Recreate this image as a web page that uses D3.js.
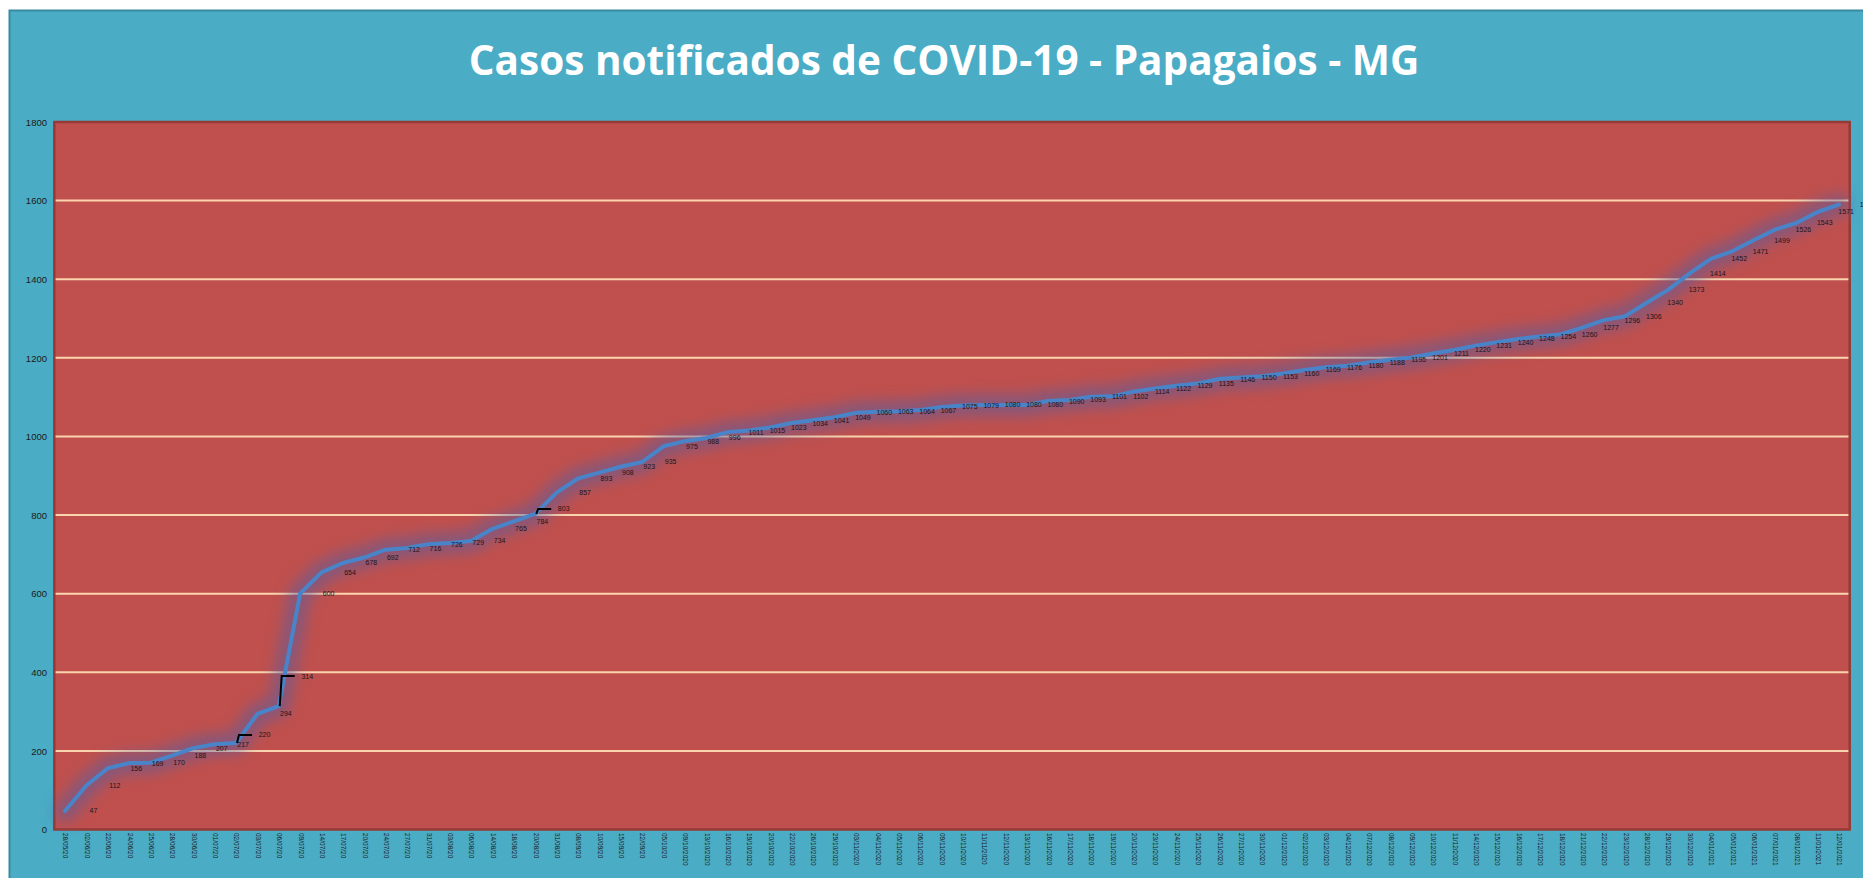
<!DOCTYPE html>
<html>
<head>
<meta charset="utf-8">
<script src="https://cdn.jsdelivr.net/npm/d3@7"></script>
<style>
  html, body { margin: 0; padding: 0; background: #ffffff; overflow: hidden; }
  svg { display: block; }
</style>
</head>
<body>
<svg id="chart" width="1863" height="878"></svg>
<script>
// ---------------- DATA ----------------
const title = "Casos notificados de COVID-19 - Papagaios - MG";

const dates = [
  "28/05/20","02/06/20","22/06/20","24/06/20","25/06/20","28/06/20","30/06/20","01/07/20","02/07/20","03/07/20",
  "06/07/20","09/07/20","14/07/20","17/07/20","20/07/20","24/07/20","27/07/20","31/07/20","03/08/20","06/08/20",
  "14/08/20","18/08/20","20/08/20","31/08/20","08/09/20","10/09/20","15/09/20","22/09/20","05/10/20","09/10/2020",
  "13/10/2020","16/10/2020","19/10/2020","20/10/2020","22/10/2020","26/10/2020","29/10/2020","03/11/2020","04/11/2020","05/11/2020",
  "06/11/2020","09/11/2020","10/11/2020","11/11/2020","12/11/2020","13/11/2020","16/11/2020","17/11/2020","18/11/2020","19/11/2020",
  "20/11/2020","23/11/2020","24/11/2020","25/11/2020","26/11/2020","27/11/2020","30/11/2020","01/12/2020","02/12/2020","03/12/2020",
  "04/12/2020","07/12/2020","08/12/2020","09/12/2020","10/12/2020","11/12/2020","14/12/2020","15/12/2020","16/12/2020","17/12/2020",
  "18/12/2020","21/12/2020","22/12/2020","23/12/2020","28/12/2020","29/12/2020","30/12/2020","04/01/2021","05/01/2021","06/01/2021",
  "07/01/2021","08/01/2021","11/01/2021","12/01/2021"
];

const cases = [
  47,112,156,169,170,188,207,217,220,294,
  314,600,654,678,692,712,716,726,729,734,
  765,784,803,857,893,908,923,935,975,988,
  996,1011,1015,1023,1034,1041,1049,1060,1063,1064,
  1067,1075,1079,1080,1080,1080,1090,1093,1101,1102,
  1114,1122,1129,1135,1146,1150,1153,1160,1169,1176,
  1180,1188,1195,1201,1211,1220,1231,1240,1248,1254,
  1260,1277,1296,1306,1340,1373,1414,1452,1471,1499,
  1526,1543,1571,1590
];

const yTicks = [0,200,400,600,800,1000,1200,1400,1600,1800];

// ---------------- LAYOUT ----------------
const W = 1863, H = 878;
const plot = { left: 54.3, right: 1849.7, top: 122, bottom: 829.5 };

const svg = d3.select("#chart");
const defs = svg.append("defs");

const glow = defs.append("filter").attr("id", "glow")
  .attr("x", "-5%").attr("y", "-20%").attr("width", "110%").attr("height", "140%");
glow.append("feGaussianBlur").attr("stdDeviation", 7);

// outer chart area
svg.append("rect")
  .attr("x", 9.5).attr("y", 10.5)
  .attr("width", W + 20).attr("height", H + 20)
  .attr("fill", "#4BACC6")
  .attr("stroke", "#378A9F").attr("stroke-width", 2);

// title
const titleText = svg.append("text")
  .attr("x", 944).attr("y", 75)
  .attr("text-anchor", "middle")
  .attr("font-family", "'Open Sans', 'Noto Sans', sans-serif")
  .attr("font-weight", "bold")
  .attr("font-size", 40)
  .attr("fill", "#ffffff")
  .text(title);
const tl = titleText.node().getComputedTextLength();
titleText.attr("font-size", 40 * 951 / tl);

// scales
const x = d3.scalePoint()
  .domain(d3.range(cases.length))
  .range([plot.left, plot.right])
  .padding(0.5);
const y = d3.scaleLinear().domain([0, 1800]).range([plot.bottom, plot.top]);

// plot background
svg.append("rect")
  .attr("x", plot.left).attr("y", plot.top)
  .attr("width", plot.right - plot.left).attr("height", plot.bottom - plot.top)
  .attr("fill", "#C0504D");

// gridlines
svg.append("g")
  .selectAll("line")
  .data(yTicks.filter(d => d > 0 && d < 1800))
  .join("line")
  .attr("x1", plot.left).attr("x2", plot.right)
  .attr("y1", d => y(d)).attr("y2", d => y(d))
  .attr("stroke", "#FBD4AE").attr("stroke-width", 2);

// plot border
svg.append("rect")
  .attr("x", plot.left).attr("y", plot.top)
  .attr("width", plot.right - plot.left).attr("height", plot.bottom - plot.top)
  .attr("fill", "none")
  .attr("stroke", "#963A37").attr("stroke-width", 2.5);

// y axis
const yAxis = d3.axisLeft(y).tickValues(yTicks).tickFormat(d3.format("d")).tickSize(0).tickPadding(0);
const gy = svg.append("g").attr("transform", `translate(${47},0)`).call(yAxis);
gy.select(".domain").remove();
gy.selectAll("text")
  .attr("font-family", "Arial, 'Liberation Sans', sans-serif")
  .attr("font-size", 9.5)
  .attr("fill", "#1a1a1a")
  .attr("dy", "0.35em");

// x axis labels
const xAxis = d3.axisBottom(x).tickFormat(i => dates[i]).tickSize(0).tickPadding(0);
const gx = svg.append("g").attr("transform", `translate(0,${833})`).call(xAxis);
gx.select(".domain").remove();
gx.selectAll("text")
  .attr("font-family", "Arial, 'Liberation Sans', sans-serif")
  .attr("font-size", 6.5)
  .attr("fill", "#1a1a1a")
  .attr("text-anchor", "start")
  .attr("dy", "0.32em")
  .attr("y", 0)
  .attr("x", 0)
  .attr("transform", "rotate(90)");

// line
const line = d3.line().x((d, i) => x(i)).y(d => y(d));

svg.append("path")
  .datum(cases)
  .attr("d", line)
  .attr("fill", "none")
  .attr("stroke", "#4F5FA6")
  .attr("stroke-width", 22)
  .attr("stroke-linejoin", "round")
  .attr("stroke-linecap", "round")
  .attr("opacity", 0.5)
  .attr("filter", "url(#glow)");

svg.append("path")
  .datum(cases)
  .attr("d", line)
  .attr("fill", "none")
  .attr("stroke", "#4A84C8")
  .attr("stroke-width", 4)
  .attr("stroke-linejoin", "round")
  .attr("stroke-linecap", "round");

// data labels (some moved with leader lines)
const moved = new Map([[8, -8], [10, -30], [22, -5]]);

svg.append("g")
  .selectAll("path")
  .data(Array.from(moved.entries()))
  .join("path")
  .attr("d", ([i, dy]) => {
    const px = x(i), py = y(cases[i]);
    return `M${px + 1},${py} L${px + 3},${py + dy} L${px + 16},${py + dy}`;
  })
  .attr("fill", "none")
  .attr("stroke", "#000")
  .attr("stroke-width", 2);

svg.append("g")
  .selectAll("text")
  .data(cases)
  .join("text")
  .attr("x", (d, i) => x(i) + 28.5)
  .attr("y", (d, i) => y(d) + (moved.get(i) || 0))
  .attr("dy", "0.35em")
  .attr("text-anchor", "middle")
  .attr("font-family", "Arial, 'Liberation Sans', sans-serif")
  .attr("font-size", 7)
  .attr("fill", "#1e1414")
  .text(d => d);
</script>
</body>
</html>
